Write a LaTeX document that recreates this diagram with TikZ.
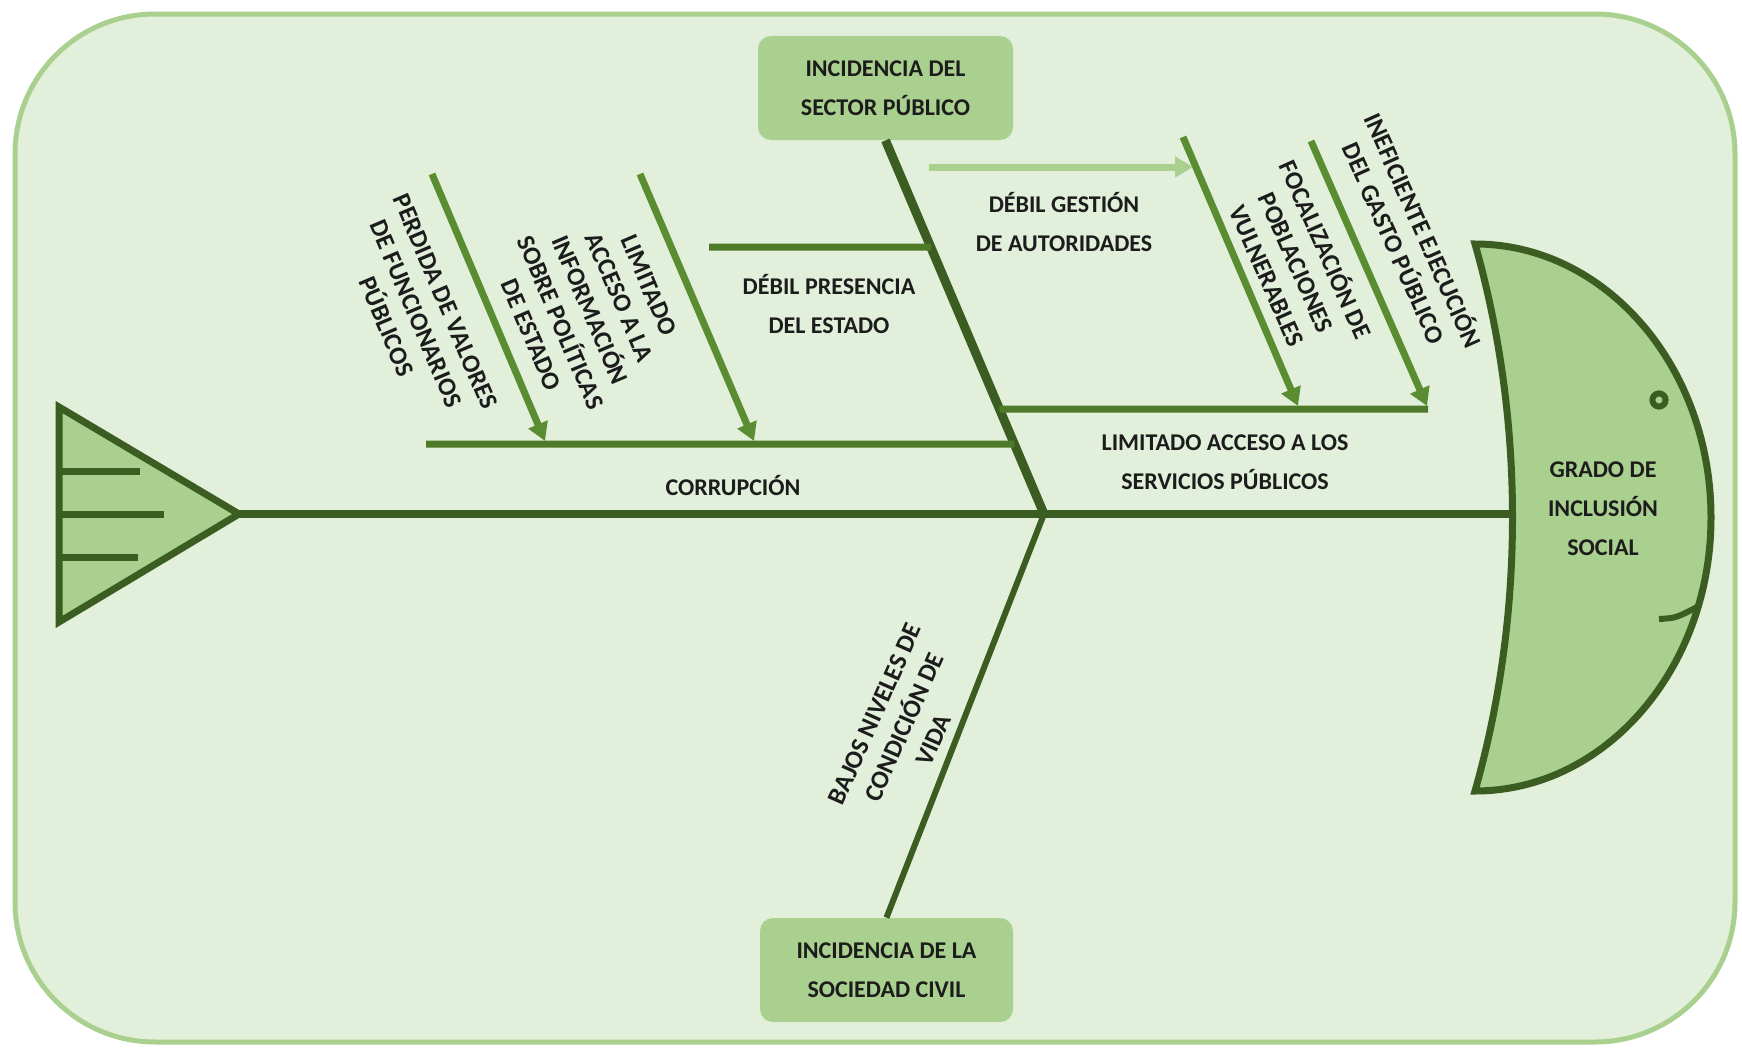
\documentclass[tikz,border=0pt]{standalone}
\usepackage{fontspec}
\setmainfont{Carlito}
\usetikzlibrary{arrows.meta,calc}
\definecolor{bgfill}{HTML}{E2EFDA}
\definecolor{frame}{HTML}{A9D08E}
\definecolor{fishfill}{HTML}{A9D08E}
\definecolor{darkg}{HTML}{3B5D21}
\definecolor{hboneg}{HTML}{4E7A29}
\definecolor{arrowg}{HTML}{5A8D32}
\definecolor{lightg}{HTML}{A9D08E}
\definecolor{txt}{HTML}{1C1C1C}
\tikzset{
  outline/.style={line width=3.5pt, draw=darkg, fill=fishfill, line join=miter},
  spinebone/.style={line width=4pt, draw=darkg},
  mainbone/.style={line width=4.5pt, draw=darkg},
  lowbone/.style={line width=3pt, draw=darkg},
  hbone/.style={line width=3.5pt, draw=hboneg},
  tailbar/.style={line width=3.5pt, draw=darkg},
  subarrow/.style={line width=3.5pt, draw=arrowg, -{Triangle[length=9pt,width=10pt]}},
  lightarrow/.style={line width=3.5pt, draw=lightg, -{Triangle[length=9pt,width=10pt]}},
  lbl/.style={font=\fontsize{12}{19.5}\selectfont\bfseries, align=center, text=txt, inner sep=0pt},
  rlbl/.style={font=\fontsize{12.8}{16}\selectfont\bfseries, align=center, text=txt, inner sep=0pt},
  boxnode/.style={fill=fishfill, rounded corners=6.5pt, inner sep=0pt, align=center,
    font=\fontsize{12}{19.5}\selectfont\bfseries, text=txt}
}
\begin{document}
\begin{tikzpicture}[x=0.5pt,y=-0.5pt]
\useasboundingbox (0,0) rectangle (1742,1049);
% outer frame
\draw[line width=2.5pt, draw=frame, fill=bgfill, rounded corners=70pt] (15,14) rectangle (1735,1042);

% boxes
\node[boxnode, minimum width=127.5pt, minimum height=52pt] (topbox) at (885.5,88) {INCIDENCIA DEL\\SECTOR PÚBLICO};
\node[boxnode, minimum width=126.5pt, minimum height=52pt] (botbox) at (886.5,970) {INCIDENCIA DE LA\\SOCIEDAD CIVIL};

% tail
\coordinate (tailtip) at (239,514);
\draw[outline] (59,407) -- (tailtip) -- (59,622) -- cycle;
\draw[tailbar] (59,471) -- (140,471);
\draw[tailbar] (59,514) -- (164,514);
\draw[tailbar] (59,557) -- (138,557);

% head
\draw[outline] (1475,244) .. controls (1605,244) and (1711,366) .. (1711,517.5)
  .. controls (1711,669) and (1605,791) .. (1475,791)
  .. controls (1525,615) and (1525,420) .. (1475,244) -- cycle;
\coordinate (headin) at (1512,514);
\draw[line width=3pt, draw=darkg, fill=fishfill] (1659,400) circle[radius=3.3pt];
\draw[line width=3pt, draw=darkg] (1659,619) .. controls (1676,618) .. (1699,606);

% spine and main bones
\coordinate (J) at (1044,514);
\draw[spinebone] (tailtip) -- (headin);
\draw[mainbone] (J) -- (topbox.south);
\draw[lowbone] (J) -- (botbox.north);

% horizontal bones
\coordinate (cL) at (426,444);
\coordinate (cR) at ($(J)!0.187!(topbox.south)$);
\draw[hbone] (cL) -- (cR);
\coordinate (pL) at (709,247);
\coordinate (pR) at ($(J)!0.714!(topbox.south)$);
\draw[hbone] (pL) -- (pR);
\coordinate (sL) at ($(J)!0.281!(topbox.south)$);
\coordinate (sR) at (1428,409);
\draw[hbone] (sL) -- (sR);

% sub arrows
\coordinate (a1s) at (432,174);
\coordinate (a1e) at (545,441);
\draw[subarrow] (a1s) -- (a1e);
\coordinate (a2s) at (640,174);
\coordinate (a2e) at (754,441);
\draw[subarrow] (a2s) -- (a2e);
\coordinate (a3s) at (1183,137);
\coordinate (a3e) at (1298,406);
\draw[subarrow] (a3s) -- (a3e);
\coordinate (a4s) at (1311,141);
\coordinate (a4e) at (1427,406);
\draw[subarrow] (a4s) -- (a4e);
\coordinate (lgs) at (929,167);
\coordinate (lge) at (1193,167);
\draw[lightarrow] (lgs) -- (lge);

% labels
\node[lbl] (corr) at (733,486) {CORRUPCIÓN};
\node[lbl] (dpres) at (829,304) {DÉBIL PRESENCIA\\DEL ESTADO};
\node[lbl] (dgest) at (1064,222) {DÉBIL GESTIÓN\\DE AUTORIDADES};
\node[lbl] (lacc) at (1225,462) {LIMITADO ACCESO A LOS\\SERVICIOS PÚBLICOS};
\node[lbl] (grado) at (1603,509) {GRADO DE\\INCLUSIÓN\\SOCIAL};

\node[rlbl, rotate=-67] (perd) at (416,314) {PERDIDA DE VALORES\\DE FUNCIONARIOS\\PÚBLICOS};
\node[rlbl, rotate=-67] (limi) at (590,310) {LIMITADO\\ACCESO A LA\\INFORMACIÓN\\SOBRE POLÍTICAS\\DE ESTADO};
\node[rlbl, rotate=-66] (foca) at (1298,262) {FOCALIZACIÓN DE\\POBLACIONES\\VULNERABLES};
\node[rlbl, rotate=-66] (inef) at (1410,236) {INEFICIENTE EJECUCIÓN\\DEL GASTO PÚBLICO};
\node[rlbl, rotate=66] (bajos) at (904,727) {BAJOS NIVELES DE\\CONDICIÓN DE\\VIDA};
\end{tikzpicture}
\end{document}
